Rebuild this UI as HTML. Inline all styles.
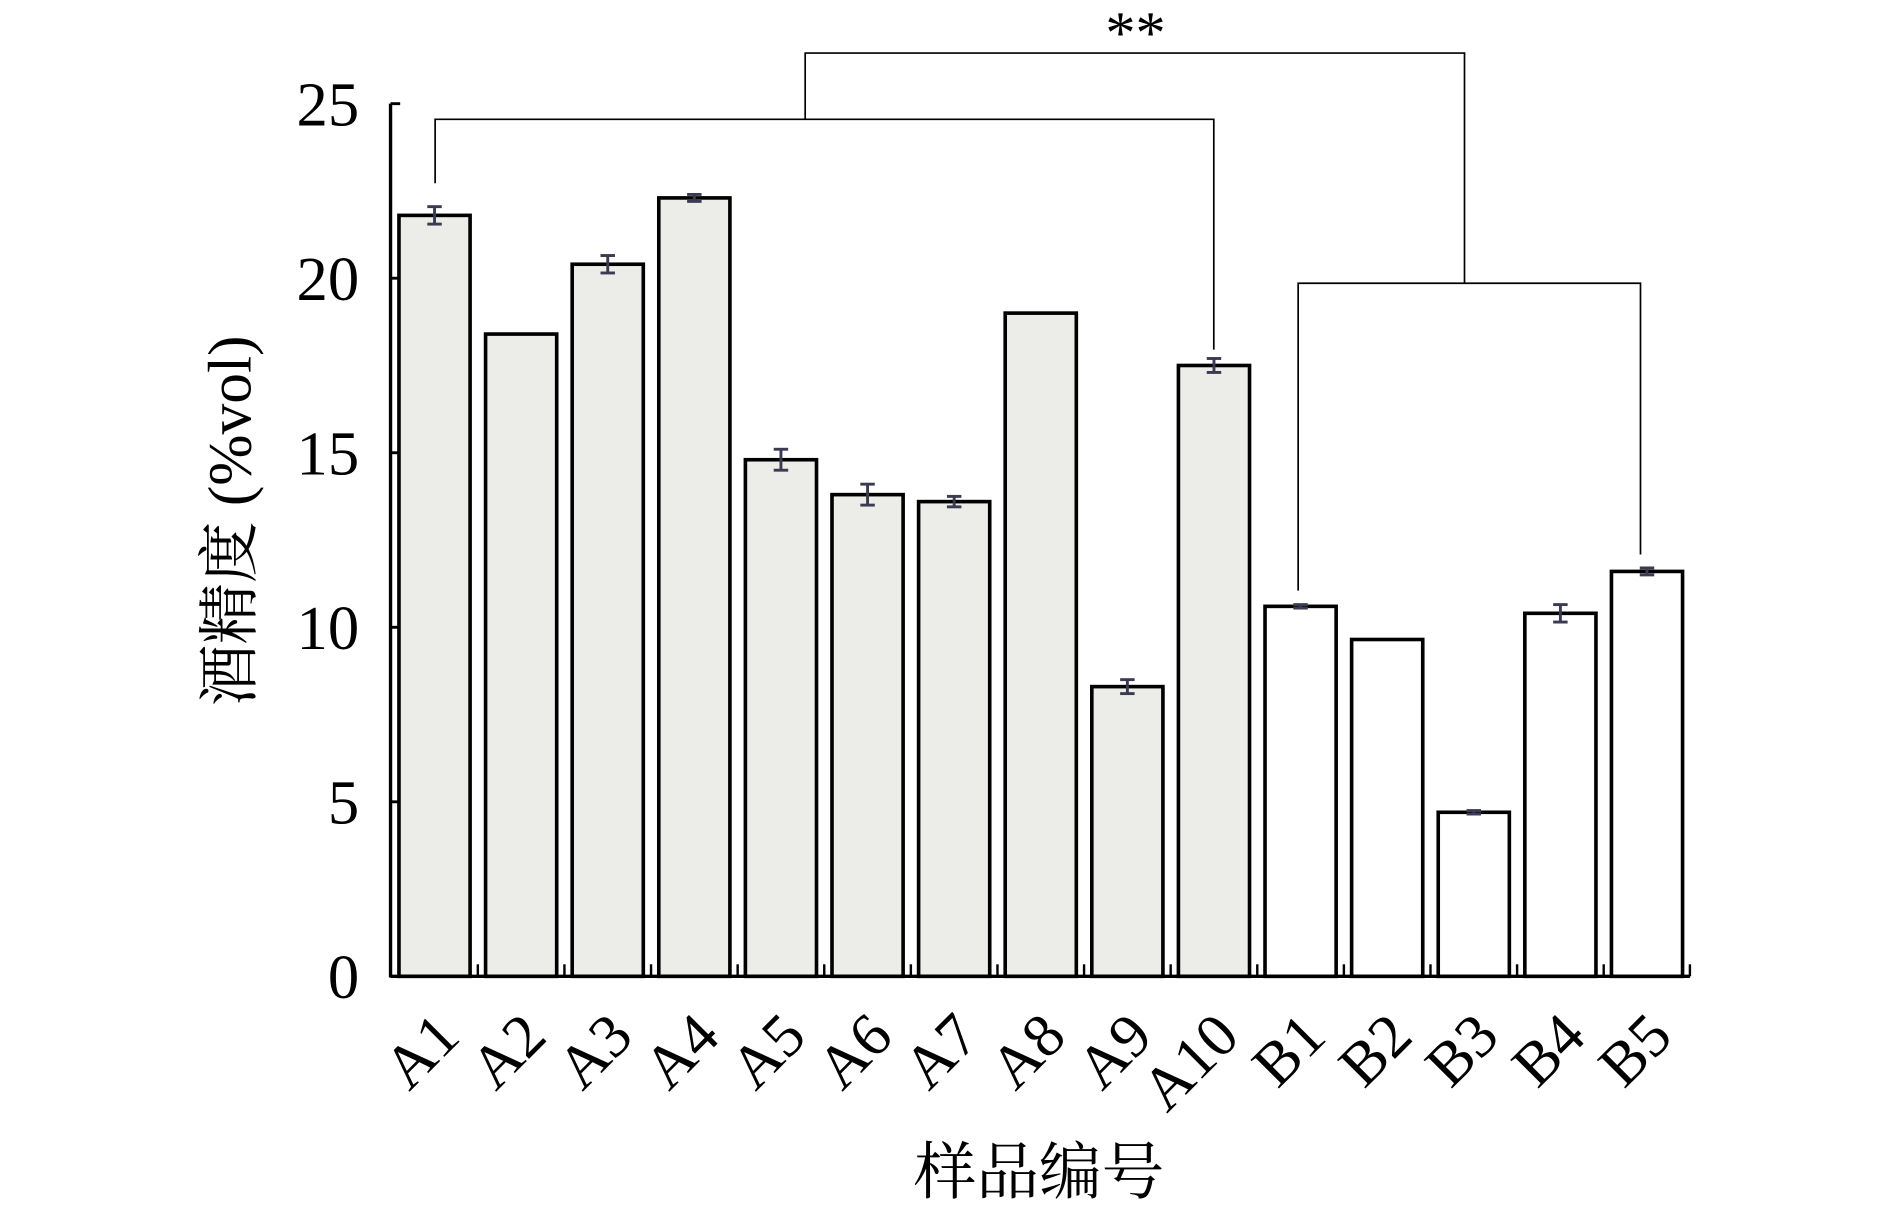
<!DOCTYPE html>
<html><head><meta charset="utf-8"><style>
html,body{margin:0;padding:0;background:#fff;}
svg{display:block;}
text{font-family:"Liberation Serif","Noto Serif CJK SC",serif;fill:#000;}
</style></head><body>
<svg id="chart" width="1890" height="1219" viewBox="0 0 1568 1011.3" xmlns="http://www.w3.org/2000/svg">
<g id="g"></g>
</svg>
<script>
const categories=["A1","A2","A3","A4","A5","A6","A7","A8","A9","A10","B1","B2","B3","B4","B5"];
const values=[21.8,18.4,20.4,22.3,14.8,13.8,13.6,19.0,8.3,17.5,10.6,9.65,4.7,10.4,11.6];
const errors=[0.25,0,0.25,0.1,0.3,0.3,0.15,0,0.2,0.2,0.05,0,0.05,0.25,0.1];
const groups=["A","A","A","A","A","A","A","A","A","A","B","B","B","B","B"];
const yTicks=[0,5,10,15,20,25];
const NS="http://www.w3.org/2000/svg";
const g=document.getElementById('g');
const x0=324,x1=1402,yZero=810,yTop=86;
const y=v=>yZero-(v/25)*(yZero-yTop);
const pitch=71.85,bw=59;
const xc=i=>360.5+i*pitch;
function el(t,a,p){const e=document.createElementNS(NS,t);for(const k in a)e.setAttribute(k,a[k]);(p||g).appendChild(e);return e;}
categories.forEach((c,i)=>{
  const r=el('rect',{x:xc(i)-bw/2,y:y(values[i]),width:bw,height:yZero-y(values[i]),fill:groups[i]==="A"?"#ecece8":"#fff",stroke:"#000","stroke-width":3});
  
  
  if(errors[i]>0){
    const eg=el('g',{stroke:"#3a3a50","stroke-width":2.4});
    
    
    const t=y(values[i]+errors[i]),b=y(values[i]-errors[i]);
    el('line',{x1:xc(i),x2:xc(i),y1:t,y2:b},eg);
    el('line',{x1:xc(i)-6,x2:xc(i)+6,y1:t,y2:t},eg);
    el('line',{x1:xc(i)-6,x2:xc(i)+6,y1:b,y2:b},eg);
  }
  const tx=el('text',{x:0,y:0,"font-size":51,"text-anchor":"end",transform:`translate(${xc(i)+23},${862}) rotate(-45)`});
  tx.textContent=c;
  
  
  if(i<categories.length-1){el('line',{x1:xc(i)+pitch/2,x2:xc(i)+pitch/2,y1:yZero,y2:yZero-10,stroke:"#000","stroke-width":2});}
});
const ax=el('line',{x1:x0,x2:x0,y1:yTop,y2:yZero+1,stroke:"#000","stroke-width":2.8});

const bx=el('line',{x1:x0,x2:x1,y1:yZero,y2:yZero,stroke:"#000","stroke-width":2.8});

el('line',{x1:x1,x2:x1,y1:yZero,y2:yZero-10,stroke:"#000","stroke-width":2});
yTicks.forEach(v=>{
  el('line',{x1:x0,x2:x0+8,y1:y(v),y2:y(v),stroke:"#000","stroke-width":2.4});
  const t=el('text',{x:298,y:y(v)+18,"font-size":52,"text-anchor":"end"});
  t.textContent=v;
  
  
});
const br=el('g',{stroke:"#000","stroke-width":1.4,fill:"none"});

el('polyline',{points:`361,152 361,99 1007,99 1007,290`},br);
el('polyline',{points:`1077,490 1077,235 1361,235 1361,460`},br);
el('polyline',{points:`668,99 668,44 1215,44 1215,235`},br);
const st=el('text',{x:942,y:44,"font-size":50,"text-anchor":"middle"});st.textContent="**";

const yl=el('text',{x:0,y:0,"font-size":51,"text-anchor":"middle",transform:"translate(208,432) rotate(-90)"});
yl.textContent="酒精度 (%vol)";

const xl=el('text',{x:862,y:990,"font-size":52,"text-anchor":"middle"});
xl.textContent="样品编号";

</script>
</body></html>
